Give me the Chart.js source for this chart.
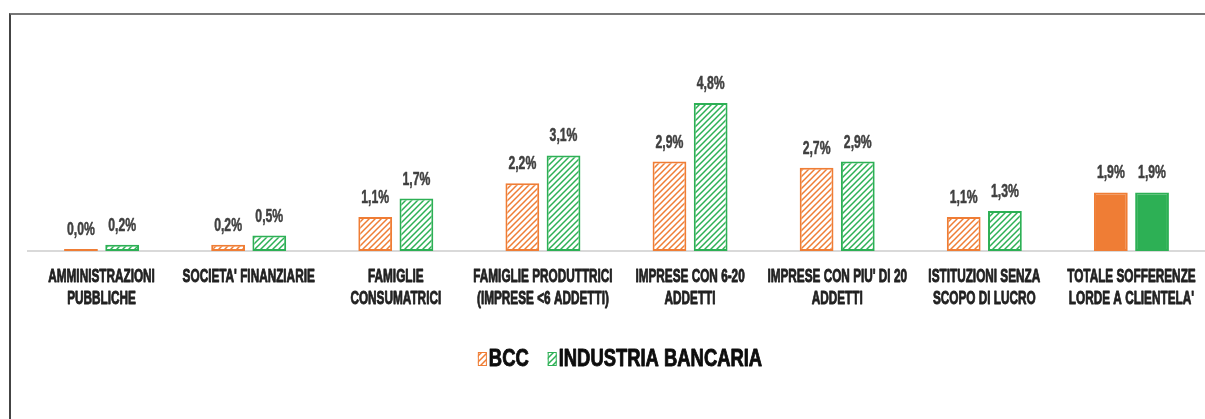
<!DOCTYPE html>
<html>
<head>
<meta charset="utf-8">
<script src="https://cdn.jsdelivr.net/npm/chart.js@4.4.1/dist/chart.umd.min.js"></script>
<style>
  html, body { margin: 0; padding: 0; background: #fff; }
  #wrap { position: relative; width: 1205px; height: 419px; }
  #frame { position: absolute; left: 9px; top: 13px; right: 0; bottom: 0;
           border-top: 2px solid #777; border-left: 2px solid #444; pointer-events: none; }
  canvas { position: absolute; left: 0; top: 0; }
</style>
</head>
<body>
<div id="wrap">
  <canvas id="chart" width="1205" height="419"></canvas>
  <div id="frame"></div>
</div>
<script>
var categorie = [
  ["AMMINISTRAZIONI", "PUBBLICHE"],
  ["SOCIETA' FINANZIARIE"],
  ["FAMIGLIE", "CONSUMATRICI"],
  ["FAMIGLIE PRODUTTRICI", "(IMPRESE <6 ADDETTI)"],
  ["IMPRESE CON 6-20", "ADDETTI"],
  ["IMPRESE CON PIU' DI 20", "ADDETTI"],
  ["ISTITUZIONI SENZA", "SCOPO DI LUCRO"],
  ["TOTALE SOFFERENZE", "LORDE A CLIENTELA'"]
];
var bcc = [0.0, 0.2, 1.1, 2.2, 2.9, 2.7, 1.1, 1.9];
var industria = [0.2, 0.5, 1.7, 3.1, 4.8, 2.9, 1.3, 1.9];
var serie = ["BCC", "INDUSTRIA BANCARIA"];

var ARANCIO = "#EF7D35";
var VERDE = "#2DB055";
var FONT = "'Liberation Sans', Arial, sans-serif";

function tratteggio(colore) {
  var c = document.createElement('canvas');
  c.width = 6; c.height = 6;
  var g = c.getContext('2d');
  g.fillStyle = '#fff';
  g.fillRect(0, 0, 6, 6);
  g.strokeStyle = colore;
  g.lineWidth = 1.5;
  g.beginPath();
  g.moveTo(0, 6); g.lineTo(6, 0);
  g.moveTo(-3, 3); g.lineTo(3, -3);
  g.moveTo(3, 9); g.lineTo(9, 3);
  g.stroke();
  return g.createPattern(c, 'repeat');
}

function riempimenti(colore, n) {
  var p = tratteggio(colore);
  var out = [];
  for (var i = 0; i < n; i++) out.push(i == n - 1 ? colore : p);
  return out;
}

function fmt(v) {
  return v.toFixed(1).replace('.', ',') + '%';
}

// testo "stretto" e un po' piu' pesante, per imitare il font condensed del grafico
function testoStretto(ctx, s, x, y, sx, align, spessore) {
  ctx.save();
  ctx.translate(x, y);
  ctx.scale(sx, 1);
  ctx.textAlign = align || 'center';
  ctx.fillText(s, 0, 0);
  if (spessore) {
    ctx.strokeStyle = ctx.fillStyle;
    ctx.lineWidth = spessore;
    ctx.lineJoin = 'round';
    ctx.strokeText(s, 0, 0);
  }
  ctx.restore();
}

var etichette = {
  id: 'etichette',
  afterDatasetsDraw: function(chart) {
    var ctx = chart.ctx;
    ctx.save();
    ctx.font = "bold 18px " + FONT;
    ctx.fillStyle = '#404040';
    ctx.textBaseline = 'alphabetic';
    chart.data.datasets.forEach(function(ds, di) {
      chart.getDatasetMeta(di).data.forEach(function(bar, i) {
        testoStretto(ctx, fmt(ds.data[i]), bar.x, bar.y - 14, 0.68, 'center', 0.5);
      });
    });
    ctx.restore();
  }
};

var categorieAsse = {
  id: 'categorieAsse',
  afterDraw: function(chart) {
    var ctx = chart.ctx;
    var xs = chart.scales.x;
    var y0 = chart.chartArea.bottom;
    ctx.save();
    ctx.font = "bold 19px " + FONT;
    ctx.fillStyle = '#222';
    ctx.textBaseline = 'middle';
    chart.data.labels.forEach(function(righe, i) {
      var x = xs.getPixelForValue(i);
      righe.forEach(function(r, k) {
        testoStretto(ctx, r, x, y0 + 26 + k * 22, 0.62, 'center', 0.9);
      });
    });
    ctx.restore();
  }
};

var legenda = {
  id: 'legenda',
  afterDraw: function(chart) {
    var ctx = chart.ctx;
    ctx.save();
    ctx.font = "bold 23px " + FONT;
    ctx.textBaseline = 'middle';
    var sx = 0.8;
    var y = 359;
    var box = 9, gap = 2, sep = 19;
    var tot = 0;
    chart.data.datasets.forEach(function(ds, i) {
      tot += box + gap + ctx.measureText(ds.label).width * sx + (i ? sep : 0);
    });
    var x = 620 - tot / 2;
    chart.data.datasets.forEach(function(ds, i) {
      if (i) x += sep;
      ctx.fillStyle = ds.backgroundColor[0];
      ctx.fillRect(x, y - 7, box, 14);
      ctx.strokeStyle = ds.borderColor;
      ctx.lineWidth = 1;
      ctx.strokeRect(x + 0.5, y - 6.5, box - 1, 13);
      x += box + gap;
      ctx.fillStyle = '#0d0d0d';
      testoStretto(ctx, ds.label, x, y + 1, sx, 'left', 0.9);
      x += ctx.measureText(ds.label).width * sx;
    });
    ctx.restore();
  }
};

new Chart(document.getElementById('chart'), {
  type: 'bar',
  data: {
    labels: categorie,
    datasets: [{
      label: serie[0],
      data: bcc,
      backgroundColor: riempimenti(ARANCIO, bcc.length),
      borderColor: ARANCIO,
      borderWidth: 2,
      borderSkipped: false,
      minBarLength: 2
    }, {
      label: serie[1],
      data: industria,
      backgroundColor: riempimenti(VERDE, industria.length),
      borderColor: VERDE,
      borderWidth: 2,
      borderSkipped: false,
      minBarLength: 2
    }]
  },
  options: {
    responsive: false,
    animation: false,
    categoryPercentage: 0.56,
    barPercentage: 0.82,
    layout: { padding: { top: 66, left: 28, right: 0, bottom: 168 } },
    plugins: {
      legend: { display: false },
      tooltip: { enabled: false }
    },
    scales: {
      x: {
        grid: { display: false, drawTicks: false },
        border: { display: true, color: '#d9d9d9', width: 2 },
        ticks: { display: false }
      },
      y: {
        display: false,
        min: 0,
        max: 6
      }
    }
  },
  plugins: [etichette, categorieAsse, legenda]
});
</script>
</body>
</html>
